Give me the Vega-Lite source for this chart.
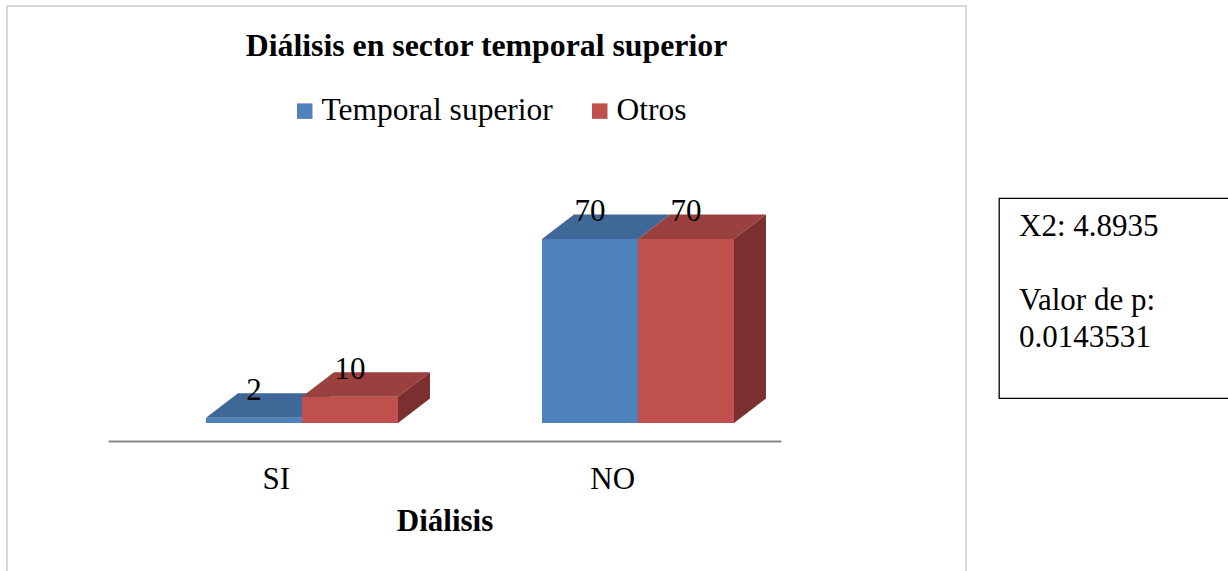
{
  "$schema": "https://vega.github.io/schema/vega-lite/v6.json",
  "padding": {"left": 6, "top": 5, "right": 0, "bottom": 0},
  "background": "white",
  "config": {"font": "Liberation Serif"},
  "datasets": {
    "conteos": [
      {"dialisis": "SI", "grupo": "Temporal superior", "n": 2},
      {"dialisis": "SI", "grupo": "Otros", "n": 10},
      {"dialisis": "NO", "grupo": "Temporal superior", "n": 70},
      {"dialisis": "NO", "grupo": "Otros", "n": 70}
    ],
    "prueba": [
      {"orden": 1, "linea": "X2: 4.8935"},
      {"orden": 2, "linea": ""},
      {"orden": 3, "linea": "Valor de p:"},
      {"orden": 4, "linea": "0.0143531"}
    ]
  },
  "spacing": 31,
  "center": true,
  "hconcat": [
    {
      "width": 959,
      "height": 584,
      "data": {"name": "conteos"},
      "view": {"stroke": "#D9D9D9", "strokeWidth": 2},
      "title": {
        "text": "Diálisis en sector temporal superior",
        "fontSize": 31.8,
        "fontWeight": "bold",
        "font": "Liberation Serif",
        "color": "black",
        "anchor": "middle",
        "frame": "group",
        "baseline": "alphabetic",
        "offset": -82
      },
      "transform": [
        {"calculate": "datum.dialisis === 'SI' ? 0 : 1", "as": "ci"},
        {"calculate": "datum.grupo === 'Temporal superior' ? 0 : 1", "as": "si"},
        {"calculate": "datum.ci + (datum.si - 1) * 0.2857", "as": "x0"},
        {"calculate": "datum.x0 + 0.2857", "as": "x1"},
        {"calculate": "(datum.x0 + datum.x1) / 2", "as": "xc"},
        {"calculate": "[0, 1]", "as": "k"},
        {"flatten": ["k"]},
        {"calculate": "datum.k * 0.0952", "as": "ox"},
        {"calculate": "datum.k * 9.3", "as": "oy"},
        {"calculate": "datum.x0 + datum.ox", "as": "tx0"},
        {"calculate": "datum.x1 + datum.ox", "as": "tx1"},
        {"calculate": "datum.n + datum.oy", "as": "ty"}
      ],
      "resolve": {"scale": {"x": "independent"}},
      "layer": [
        {
          "transform": [{"filter": "datum.k === 0"}],
          "mark": {"type": "text", "opacity": 0},
          "encoding": {
            "x": {
              "field": "dialisis",
              "type": "nominal",
              "sort": ["SI", "NO"],
              "scale": {"type": "band", "range": [101, 774], "paddingInner": 0, "paddingOuter": 0},
              "axis": {
                "orient": "bottom",
                "offset": -149,
                "title": "Diálisis",
                "titleFontSize": 31,
                "titleFontWeight": "bold",
                "titleFont": "Liberation Serif",
                "titleColor": "black",
                "titlePadding": 12,
                "labelFontSize": 31,
                "labelFont": "Liberation Serif",
                "labelColor": "black",
                "labelAngle": 0,
                "labelBaseline": "alphabetic",
                "labelPadding": 47,
                "ticks": false,
                "tickSize": 0,
                "domainColor": "#898989",
                "domainWidth": 2,
                "grid": false
              }
            },
            "text": {"value": ""}
          }
        },
        {
          "transform": [{"filter": "datum.k === 0 && datum.si === 0"}],
          "mark": {"type": "rect"},
          "encoding": {
            "x": {"field": "x0", "type": "quantitative", "scale": {"domain": [-0.87798, 1.97619], "nice": false, "zero": false}, "axis": null},
            "x2": {"field": "x1"},
            "y": {"field": "n", "type": "quantitative", "scale": {"domain": [-63.53, 158.64], "nice": false, "zero": false}, "axis": null},
            "y2": {"datum": 0},
            "color": {
              "field": "grupo",
              "type": "nominal",
              "scale": {"domain": ["Temporal superior", "Otros"], "range": ["#4F81BD", "#C0504D"]},
              "legend": {
                "orient": "none",
                "legendX": 282,
                "legendY": 89,
                "direction": "horizontal",
                "title": null,
                "symbolType": "square",
                "symbolSize": 240,
                "symbolStrokeWidth": 0,
                "labelFontSize": 31.5,
                "labelFont": "Liberation Serif",
                "labelColor": "black",
                "labelLimit": 500,
                "labelOffset": 1,
                "columnPadding": 31
              }
            }
          }
        },
        {
          "transform": [{"filter": "datum.si === 0"}],
          "mark": {"type": "area", "orient": "horizontal", "color": "#3F6797", "interpolate": "linear"},
          "encoding": {
            "y": {"field": "ty", "type": "quantitative", "scale": {"domain": [-63.53, 158.64], "nice": false, "zero": false}, "axis": null},
            "x": {"field": "tx0", "type": "quantitative", "scale": {"domain": [-0.87798, 1.97619], "nice": false, "zero": false}, "axis": null},
            "x2": {"field": "tx1"},
            "detail": {"field": "dialisis"}
          }
        },
        {
          "transform": [{"filter": "datum.k === 0 && datum.si === 1"}],
          "mark": {"type": "rect"},
          "encoding": {
            "x": {"field": "x0", "type": "quantitative", "scale": {"domain": [-0.87798, 1.97619], "nice": false, "zero": false}, "axis": null},
            "x2": {"field": "x1"},
            "y": {"field": "n", "type": "quantitative", "scale": {"domain": [-63.53, 158.64], "nice": false, "zero": false}, "axis": null},
            "y2": {"datum": 0},
            "color": {"field": "grupo", "type": "nominal"}
          }
        },
        {
          "transform": [{"filter": "datum.si === 1"}],
          "mark": {"type": "area", "orient": "horizontal", "color": "#9A403E", "interpolate": "linear"},
          "encoding": {
            "y": {"field": "ty", "type": "quantitative", "scale": {"domain": [-63.53, 158.64], "nice": false, "zero": false}, "axis": null},
            "x": {"field": "tx0", "type": "quantitative", "scale": {"domain": [-0.87798, 1.97619], "nice": false, "zero": false}, "axis": null},
            "x2": {"field": "tx1"},
            "detail": {"field": "dialisis"}
          }
        },
        {
          "transform": [{"filter": "datum.si === 1"}],
          "mark": {"type": "area", "orient": "vertical", "color": "#7A302F", "interpolate": "linear"},
          "encoding": {
            "x": {"field": "tx1", "type": "quantitative", "scale": {"domain": [-0.87798, 1.97619], "nice": false, "zero": false}, "axis": null},
            "y": {"field": "oy", "type": "quantitative", "scale": {"domain": [-63.53, 158.64], "nice": false, "zero": false}, "axis": null},
            "y2": {"field": "ty"},
            "detail": {"field": "dialisis"}
          }
        },
        {
          "transform": [{"filter": "datum.k === 0"}],
          "mark": {"type": "text", "baseline": "alphabetic", "align": "center", "dy": -18, "fontSize": 31, "font": "Liberation Serif", "color": "black"},
          "encoding": {
            "x": {"field": "xc", "type": "quantitative", "scale": {"domain": [-0.87798, 1.97619], "nice": false, "zero": false}, "axis": null},
            "y": {"field": "n", "type": "quantitative", "scale": {"domain": [-63.53, 158.64], "nice": false, "zero": false}, "axis": null},
            "text": {"field": "n", "type": "quantitative"}
          }
        }
      ]
    },
    {
      "width": 230,
      "height": 200,
      "data": {"name": "prueba"},
      "view": {"stroke": "black", "strokeWidth": 1.3},
      "mark": {"type": "text", "align": "left", "baseline": "alphabetic", "fontSize": 31, "font": "Liberation Serif", "color": "black", "dx": 20},
      "encoding": {
        "x": {"datum": 0, "type": "quantitative", "scale": {"domain": [0, 1]}, "axis": null},
        "y": {"field": "orden", "type": "ordinal", "scale": {"type": "point", "range": [38, 149], "padding": 0}, "axis": null},
        "text": {"field": "linea", "type": "nominal"}
      }
    }
  ]
}
